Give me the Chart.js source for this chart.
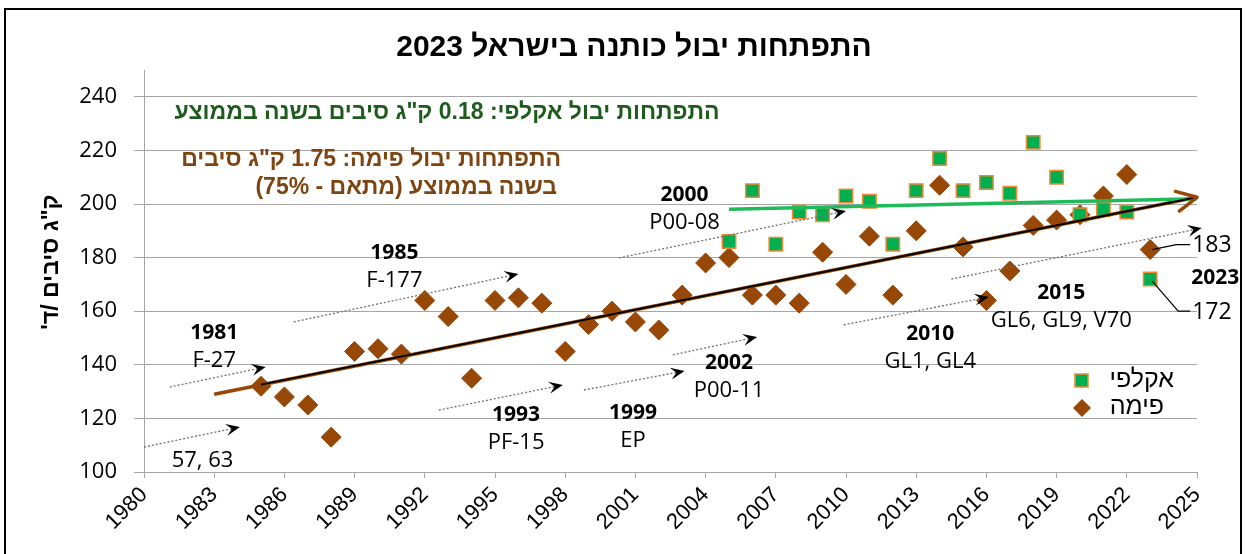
<!DOCTYPE html>
<html>
<head>
<meta charset="utf-8">
<script src="https://cdn.jsdelivr.net/npm/chart.js@4/dist/chart.umd.min.js"></script>
<style>
  body { margin: 0; background: #fff; }
  #c { display: block; }
</style>
</head>
<body>
<canvas id="c" width="1246" height="554"></canvas>
<script>
// נתונים: יבול כותנה (ק"ג סיבים לדונם)
const pimaYears = [1985, 1986, 1987, 1988, 1989, 1990, 1991, 1992, 1993, 1994, 1995, 1996, 1997, 1998, 1999,
    2000, 2001, 2002, 2003, 2004, 2005, 2006, 2007, 2008, 2009, 2010, 2011, 2012, 2013, 2014, 2015, 2016,
    2017, 2018, 2019, 2020, 2021, 2022, 2023];
const pimaValues = [132, 128, 125, 113, 145, 146, 144, 164, 158, 135, 164, 165, 163, 145, 155,
    160, 156, 153, 166, 178, 180, 166, 166, 163, 182, 170, 188, 166, 190, 207, 184, 164,
    175, 192, 194, 196, 203, 211, 183];
const akalpiYears = [2005, 2006, 2007, 2008, 2009, 2010, 2011, 2012, 2013, 2014, 2015, 2016, 2017, 2018,
    2019, 2020, 2021, 2022, 2023];
const akalpiValues = [186, 205, 185, 197, 196, 203, 201, 185, 205, 217, 205, 208, 204, 223, 210, 196, 198, 197, 172];

// קווי מגמה (נקודות קצה)
const pimaTrendYears = [1983, 2025];
const pimaTrendValues = [129, 202.5];
const pimaFitYears = [1985, 2025];
const pimaFitValues = [132.6, 202.5];
const akalpiTrendYears = [2005, 2025];
const akalpiTrendValues = [198, 202];

const xTicks = [1980, 1983, 1986, 1989, 1992, 1995, 1998, 2001, 2004, 2007, 2010, 2013, 2016, 2019, 2022, 2025];
const yTicks = [100, 120, 140, 160, 180, 200, 220, 240];

const pts = (xs, ys) => xs.map((x, i) => ({ x: x, y: ys[i] }));

// זני כותנה - חצים מקווקווים (ביחידות שנה / יבול)
const varieties = [
    { year: '', name: '57, 63', from: [1980.0, 109.3], to: [1984.1, 116.8], at: [1982.5, 104.1] },
    { year: '1981', name: 'F-27', from: [1981.1, 131.7], to: [1985.2, 139.2], at: [1983.0, 141.4] },
    { year: '1985', name: 'F-177', from: [1986.4, 156.0], to: [1996.0, 173.9], at: [1990.7, 171.3] },
    { year: '1993', name: 'PF-15', from: [1992.6, 123.1], to: [1997.9, 132.5], at: [1995.9, 110.8] },
    { year: '1999', name: 'EP', from: [1998.8, 130.6], to: [2003.1, 137.7], at: [2000.9, 111.6] },
    { year: '2002', name: 'P00-11', from: [2002.6, 143.7], to: [2006.2, 150.4], at: [2005.0, 130.2] },
    { year: '2000', name: 'P00-08', from: [2000.3, 179.9], to: [2010.0, 197.4], at: [2003.1, 192.9] },
    { year: '2010', name: 'GL1, GL4', from: [2009.9, 154.9], to: [2016.1, 165.3], at: [2013.6, 141.0] },
    { year: '2015', name: 'GL6, GL9, V70', from: [2014.5, 172.0], to: [2025.2, 191.0], at: [2019.2, 156.3] }
];

const BROWN = '#974706';
const GREEN = '#00b050';

function stealth(ctx, x1, y1, x2, y2) {
    const a = Math.atan2(y2 - y1, x2 - x1);
    const len = 14, half = 6;
    ctx.save();
    ctx.translate(x2, y2);
    ctx.rotate(a);
    ctx.beginPath();
    ctx.moveTo(0, 0);
    ctx.lineTo(-len, -half);
    ctx.lineTo(-len * 0.6, 0);
    ctx.lineTo(-len, half);
    ctx.closePath();
    ctx.fillStyle = '#000';
    ctx.fill();
    ctx.restore();
}

const overlay = {
    id: 'overlay',
    afterDatasetsDraw(chart) {
        const ctx = chart.ctx;
        const xs = chart.scales.x, ys = chart.scales.y;
        // ראש חץ בסוף קו המגמה של פימה
        const n = pimaTrendYears.length - 1;
        const x1 = xs.getPixelForValue(pimaTrendYears[0]), y1 = ys.getPixelForValue(pimaTrendValues[0]);
        const x2 = xs.getPixelForValue(pimaTrendYears[n]), y2 = ys.getPixelForValue(pimaTrendValues[n]);
        const a = Math.atan2(y2 - y1, x2 - x1);
        ctx.save();
        ctx.translate(x2, y2);
        ctx.rotate(a);
        ctx.strokeStyle = BROWN;
        ctx.lineWidth = 3.5;
        ctx.lineCap = 'round';
        ctx.lineJoin = 'round';
        ctx.beginPath();
        ctx.moveTo(-20, -10);
        ctx.lineTo(0, 0);
        ctx.lineTo(-20, 10);
        ctx.stroke();
        ctx.restore();
    },
    afterDraw(chart) {
        const ctx = chart.ctx;
        const xs = chart.scales.x, ys = chart.scales.y;
        const px = v => xs.getPixelForValue(v), py = v => ys.getPixelForValue(v);

        ctx.save();
        // מסגרת
        ctx.strokeStyle = '#000';
        ctx.lineWidth = 2;
        ctx.strokeRect(5, 9, 1236, 560);

        // כותרת
        ctx.direction = 'rtl';
        ctx.textAlign = 'center';
        ctx.textBaseline = 'middle';
        ctx.fillStyle = '#000';
        ctx.font = 'bold 30px "Liberation Sans", Arial, sans-serif';
        ctx.fillText('התפתחות יבול כותנה בישראל 2023', 634, 48);

        // טקסטים של מגמה
        ctx.font = 'bold 23px "Liberation Sans", Arial, sans-serif';
        ctx.fillStyle = '#1e5c1e';
        ctx.fillText('התפתחות יבול אקלפי: 0.18 ק"ג סיבים בשנה בממוצע', 447, 113);
        ctx.fillStyle = '#7f4510';
        ctx.textAlign = 'right';
        ctx.fillText('התפתחות יבול פימה: 1.75 ק"ג סיבים', 561, 160);
        ctx.fillText('בשנה בממוצע (מתאם - 75%)', 557, 188);

        // כותרת ציר Y
        ctx.save();
        ctx.translate(52, 262);
        ctx.rotate(-Math.PI / 2);
        ctx.textAlign = 'center';
        ctx.fillStyle = '#000';
        ctx.font = 'bold 23px "Liberation Sans", Arial, sans-serif';
        ctx.fillText('ק"ג סיבים /ד\'', 0, 0);
        ctx.restore();

        // מקרא
        ctx.textAlign = 'right';
        ctx.fillStyle = '#000';
        ctx.font = '25px "Liberation Sans", Arial, sans-serif';
        ctx.fillText('אקלפי', 1174, 380);
        ctx.fillText('פימה', 1164, 407);
        ctx.direction = 'ltr';
        ctx.fillStyle = GREEN;
        ctx.strokeStyle = '#f08a36';
        ctx.lineWidth = 1.5;
        ctx.fillRect(1075, 374, 13, 13);
        ctx.strokeRect(1075, 374, 13, 13);
        ctx.fillStyle = BROWN;
        ctx.beginPath();
        ctx.moveTo(1082, 399); ctx.lineTo(1091, 408); ctx.lineTo(1082, 417); ctx.lineTo(1073, 408);
        ctx.closePath();
        ctx.fill();

        // חצים מקווקווים ושמות זנים
        ctx.textAlign = 'center';
        varieties.forEach(v => {
            const fx = px(v.from[0]), fy = py(v.from[1]);
            const tx = px(v.to[0]), ty = py(v.to[1]);
            ctx.save();
            ctx.setLineDash([2, 2]);
            ctx.strokeStyle = '#6f6f6f';
            ctx.lineWidth = 1.3;
            ctx.beginPath();
            ctx.moveTo(fx, fy);
            ctx.lineTo(tx - (tx - fx) * 0.02, ty - (ty - fy) * 0.02);
            ctx.stroke();
            ctx.restore();
            stealth(ctx, fx, fy, tx, ty);
            const lx = px(v.at[0]), ly = py(v.at[1]);
            ctx.fillStyle = '#000';
            ctx.font = '22px "Open Sans", sans-serif';
            ctx.fillText(v.name, lx, ly);
            if (v.year) {
                ctx.font = 'bold 21px "Open Sans", sans-serif';
                ctx.fillText(v.year, lx, ly - 28);
            }
        });

        // תוויות 2023
        const lastP = pimaValues[pimaValues.length - 1], lastA = akalpiValues[akalpiValues.length - 1];
        const lastX = px(2023);
        ctx.strokeStyle = '#000';
        ctx.lineWidth = 1.2;
        ctx.beginPath();
        ctx.moveTo(lastX + 2, py(lastP));
        ctx.lineTo(lastX + 26, py(lastP) - 5);
        ctx.lineTo(lastX + 40, py(lastP) - 5);
        ctx.moveTo(lastX + 2, py(lastA) + 2);
        ctx.lineTo(lastX + 28, py(lastA) + 32);
        ctx.lineTo(lastX + 40, py(lastA) + 32);
        ctx.stroke();
        ctx.textAlign = 'left';
        ctx.font = '23px "Open Sans", sans-serif';
        ctx.fillText(String(lastP), lastX + 42, py(lastP) - 4);
        ctx.fillText(String(lastA), lastX + 42, py(lastA) + 33);
        ctx.font = 'bold 21px "Open Sans", sans-serif';
        ctx.fillText('2023', lastX + 41, py(lastA) - 1);
        ctx.restore();
    }
};

new Chart(document.getElementById('c'), {
    type: 'scatter',
    data: {
        datasets: [
            {
                label: 'אקלפי',
                data: pts(akalpiYears, akalpiValues),
                pointStyle: 'rect',
                pointRadius: 9.5,
                backgroundColor: GREEN,
                borderColor: '#f08a36',
                borderWidth: 1.5,
                order: 2
            },
            {
                label: 'פימה',
                data: pts(pimaYears, pimaValues),
                pointStyle: 'rectRot',
                pointRadius: 10,
                backgroundColor: BROWN,
                borderColor: BROWN,
                borderWidth: 1,
                order: 3
            },
            {
                label: 'מגמה פימה',
                data: pts(pimaTrendYears, pimaTrendValues),
                showLine: true,
                pointRadius: 0,
                borderColor: BROWN,
                borderWidth: 3.5,
                order: 1
            },
            {
                label: 'קו מגמה',
                data: pts(pimaFitYears, pimaFitValues),
                showLine: true,
                pointRadius: 0,
                borderColor: '#000',
                borderWidth: 2,
                order: 0
            },
            {
                label: 'מגמה אקלפי',
                data: pts(akalpiTrendYears, akalpiTrendValues),
                showLine: true,
                pointRadius: 0,
                borderColor: '#1fba5a',
                borderWidth: 3.5,
                order: 0
            }
        ]
    },
    options: {
        responsive: false,
        animation: false,
        events: [],
        layout: { padding: { top: 70, right: 49, left: 0, bottom: 0 } },
        plugins: {
            legend: { display: false },
            tooltip: { enabled: false },
            title: { display: false }
        },
        scales: {
            x: {
                type: 'linear',
                min: 1980,
                max: 2025,
                afterBuildTicks: s => { s.ticks = xTicks.map(v => ({ value: v })); },
                afterFit: s => { s.height = 82; },
                grid: { drawOnChartArea: false, drawTicks: true, tickLength: 6, color: '#a6a6a6' },
                border: { color: '#a6a6a6', width: 1 },
                ticks: {
                    minRotation: 45,
                    maxRotation: 45,
                    padding: 4,
                    color: '#000',
                    font: { family: '"Liberation Sans Narrow", "Liberation Sans", sans-serif', size: 22 },
                    callback: v => String(v)
                }
            },
            y: {
                min: 100,
                max: 250,
                afterBuildTicks: s => { s.ticks = yTicks.map(v => ({ value: v })); },
                afterFit: s => { s.width = 144; },
                grid: { color: '#a6a6a6', lineWidth: 1, tickLength: 10 },
                border: { color: '#a6a6a6', width: 1 },
                ticks: {
                    padding: 17,
                    color: '#000',
                    font: { family: '"Open Sans", sans-serif', size: 22 }
                }
            }
        }
    },
    plugins: [overlay]
});
</script>
</body>
</html>
